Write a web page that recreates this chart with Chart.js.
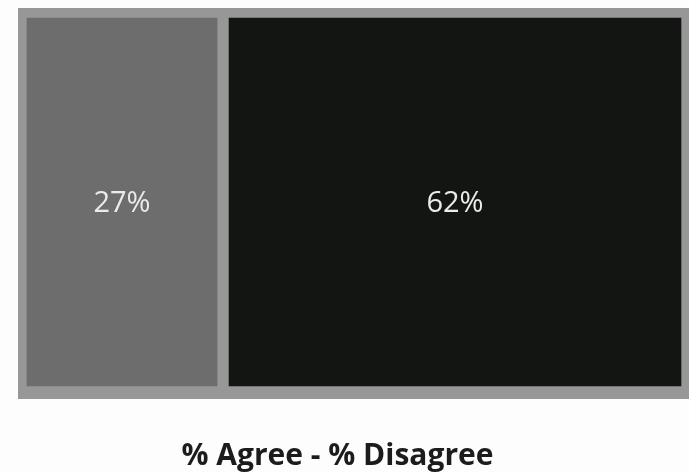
<!DOCTYPE html>
<html>
<head>
<meta charset="utf-8">
<script src="https://cdn.jsdelivr.net/npm/chart.js@4.4.1/dist/chart.umd.min.js"></script>
<style>
html,body{margin:0;padding:0;background:#fdfdfd;}
#wrap{width:689px;height:472px;}
</style>
</head>
<body>
<div id="wrap"><canvas id="c" width="689" height="472"></canvas></div>
<script>
const categories = [''];
const seriesNames = ['Series 1', 'Series 2'];
const series1 = [27];
const series2 = [62];
const valueLabels = ['27%', '62%'];
const titleText = '% Agree - % Disagree';

const FRAME = '#979797';

const framePlugin = {
  id: 'frame',
  beforeDatasetsDraw(chart) {
    const a = chart.chartArea, ctx = chart.ctx;
    ctx.save();
    ctx.fillStyle = FRAME;
    ctx.fillRect(a.left - 3, a.top - 4, (a.right + 2) - (a.left - 3), (a.bottom + 7) - (a.top - 4));
    ctx.restore();
  }
};

const labelPlugin = {
  id: 'vlabels',
  afterDatasetsDraw(chart) {
    const ctx = chart.ctx;
    ctx.save();
    ctx.font = '400 29px "Open Sans", sans-serif';
    ctx.fillStyle = '#ebebeb';
    ctx.textAlign = 'center';
    ctx.textBaseline = 'middle';
    chart.data.datasets.forEach((ds, i) => {
      const meta = chart.getDatasetMeta(i);
      meta.data.forEach((el) => {
        const p = el.getCenterPoint();
        ctx.fillText(valueLabels[i], p.x, p.y + 2);
      });
    });
    ctx.restore();
  }
};

const titlePlugin = {
  id: 'btitle',
  afterDraw(chart) {
    const ctx = chart.ctx, a = chart.chartArea;
    ctx.save();
    ctx.font = '700 30px "Open Sans", sans-serif';
    ctx.fillStyle = '#1c1c1c';
    ctx.textAlign = 'center';
    ctx.textBaseline = 'alphabetic';
    ctx.fillText(titleText, chart.width / 2 - 7, a.bottom + 73);
    ctx.restore();
  }
};

const total = series1[0] + series2[0];

new Chart(document.getElementById('c'), {
  type: 'bar',
  data: {
    labels: categories,
    datasets: [
      { label: seriesNames[0], data: series1, backgroundColor: '#6d6d6d', borderColor: FRAME,
        borderWidth: {left: 6, right: 6, top: 6, bottom: 6}, borderSkipped: false },
      { label: seriesNames[1], data: series2, backgroundColor: '#131512', borderColor: FRAME,
        borderWidth: {left: 6, right: 6, top: 6, bottom: 6}, borderSkipped: false }
    ]
  },
  options: {
    indexAxis: 'y',
    responsive: false,
    animation: false,
    devicePixelRatio: 1,
    datasets: { bar: { barPercentage: 1, categoryPercentage: 1 } },
    layout: { padding: { left: 21, right: 2, top: 12, bottom: 80 } },
    scales: {
      x: { stacked: true, display: false, min: 0, max: total },
      y: { stacked: true, display: false }
    },
    plugins: {
      legend: { display: false },
      tooltip: { enabled: false },
      title: { display: false }
    }
  },
  plugins: [framePlugin, labelPlugin, titlePlugin]
});
</script>
</body>
</html>
